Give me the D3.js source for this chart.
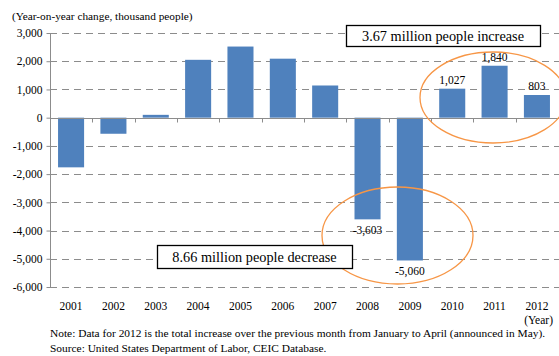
<!DOCTYPE html>
<html>
<head>
<meta charset="utf-8">
<script src="https://cdn.jsdelivr.net/npm/d3@7"></script>
<style>
  html, body { margin: 0; padding: 0; background: #fff; }
  svg { display: block; }
  svg text { font-family: "Liberation Serif", "DejaVu Serif", serif; }
</style>
</head>
<body>
<svg id="chart" width="559" height="356"></svg>
<script>
// year-on-year change in US nonfarm payrolls, thousand people
const years = ["2001", "2002", "2003", "2004", "2005", "2006", "2007", "2008", "2009", "2010", "2011", "2012"];
const change = [-1760, -570, 100, 2050, 2520, 2090, 1140, -3603, -5060, 1027, 1840, 803];
const labelled = ["2008", "2009", "2010", "2011", "2012"];
const yTicks = [3000, 2000, 1000, 0, -1000, -2000, -3000, -4000, -5000, -6000];

const W = 559, H = 356;
const M = { top: 33, right: 1, bottom: 69, left: 50 };
const C = { bar: "#4f81bd", grid: "#8c8c8c", axis: "#8c8c8c", ink: "#000", ring: "#f79646" };

const svg = d3.select("#chart");
// plain hyphen for negatives, as in the source chart
const fmt = d3.formatLocale({ decimal: ".", thousands: ",", grouping: [3], currency: ["", ""], minus: "-" }).format(",");

const x = d3.scaleBand().domain(years).range([M.left, W - M.right]).paddingInner(0.385).paddingOuter(0.19);
const y = d3.scaleLinear().domain([-6000, 3000]).range([H - M.bottom, M.top]);

// dashed gridlines
svg.append("g").selectAll("line").data(yTicks.filter(d => d !== 0)).join("line")
  .attr("x1", M.left).attr("x2", W)
  .attr("y1", d => Math.round(y(d)) + 0.5).attr("y2", d => Math.round(y(d)) + 0.5)
  .attr("stroke", C.grid).attr("stroke-width", 1).attr("stroke-dasharray", "7 5");

// y axis
const gy = svg.append("g").attr("transform", `translate(${M.left + 0.5},0)`)
  .call(d3.axisLeft(y).tickValues(yTicks).tickFormat(fmt).tickSize(4).tickPadding(4));
gy.attr("font-family", null);
gy.select(".domain").attr("stroke", C.axis).attr("d", `M0,${y(3000)}V${y(-6000) + 0.5}`);
gy.selectAll(".tick line").attr("stroke", C.axis);
gy.selectAll("text").attr("font-size", 11.5).attr("fill", C.ink);

// bars
svg.append("g").selectAll("rect").data(years).join("rect")
  .attr("x", d => x(d)).attr("width", x.bandwidth())
  .attr("y", (d, i) => y(Math.max(0, change[i])))
  .attr("height", (d, i) => Math.abs(y(change[i]) - y(0)))
  .attr("fill", C.bar);

// zero line with category ticks
const y0 = Math.round(y(0)) + 0.5;
svg.append("line").attr("x1", M.left).attr("x2", W).attr("y1", y0).attr("y2", y0)
  .attr("stroke", C.axis);
const step = x.step();
svg.append("g").selectAll("line").data(years.slice(1)).join("line")
  .attr("x1", d => Math.round(x(d) - (step - x.bandwidth()) / 2) + 0.5)
  .attr("x2", d => Math.round(x(d) - (step - x.bandwidth()) / 2) + 0.5)
  .attr("y1", y0).attr("y2", y0 + 4).attr("stroke", C.axis);

// x labels
svg.append("g").selectAll("text").data(years).join("text")
  .attr("x", d => x(d) + x.bandwidth() / 2).attr("y", H - 46.5)
  .attr("text-anchor", "middle").attr("font-size", 11.5).attr("fill", C.ink)
  .text(d => d);
svg.append("text").attr("x", 553).attr("y", H - 32.5).attr("text-anchor", "end")
  .attr("font-size", 11.5).attr("fill", C.ink).text("(Year)");

// value labels
svg.append("g").selectAll("text").data(labelled).join("text")
  .attr("x", d => x(d) + x.bandwidth() / 2)
  .attr("y", d => {
    const v = change[years.indexOf(d)];
    return v >= 0 ? y(v) - 5 : y(v) + 15;
  })
  .attr("text-anchor", "middle").attr("font-size", 11.5).attr("fill", C.ink)
  .text(d => fmt(change[years.indexOf(d)]));

// unit title
svg.append("text").attr("x", 12).attr("y", 20).attr("font-size", 11.3).attr("fill", C.ink)
  .text("(Year-on-year change, thousand people)");

// orange rings
svg.append("ellipse").attr("cx", 493).attr("cy", 97.5).attr("rx", 73).attr("ry", 45.5)
  .attr("fill", "none").attr("stroke", C.ring).attr("stroke-width", 1.3);
svg.append("ellipse").attr("cx", 397.5).attr("cy", 235.5).attr("rx", 75.5).attr("ry", 48.5)
  .attr("fill", "none").attr("stroke", C.ring).attr("stroke-width", 1.3);

// callout boxes
function callout(x0, y0, w, h, text) {
  svg.append("rect").attr("x", x0 + 0.5).attr("y", y0 + 0.5).attr("width", w).attr("height", h)
    .attr("fill", "#fff").attr("stroke", "#000").attr("stroke-width", 1.3);
  svg.append("text").attr("x", x0 + w / 2).attr("y", y0 + h / 2 + 5)
    .attr("text-anchor", "middle").attr("font-size", 14.3).attr("fill", C.ink).text(text);
}
callout(346, 25, 194, 21, "3.67 million people increase");
callout(157, 245, 195, 23, "8.66 million people decrease");

// notes
svg.append("text").attr("x", 50).attr("y", 337).attr("font-size", 11.4).attr("fill", C.ink)
  .text("Note: Data for 2012 is the total increase over the previous month from January to April (announced in May).");
svg.append("text").attr("x", 50).attr("y", 352).attr("font-size", 11.4).attr("fill", C.ink)
  .text("Source: United States Department of Labor, CEIC Database.");
</script>
</body>
</html>
